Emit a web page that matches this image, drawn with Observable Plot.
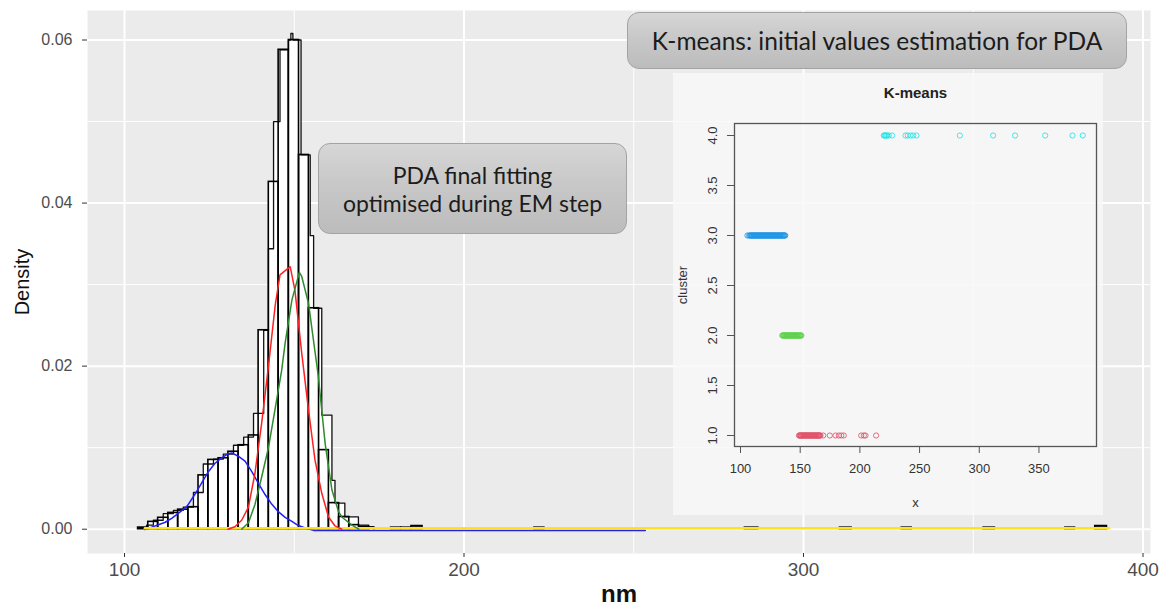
<!DOCTYPE html>
<html><head><meta charset="utf-8">
<script src="https://cdn.jsdelivr.net/npm/d3@7"></script>
<script src="https://cdn.jsdelivr.net/npm/@observablehq/plot@0.6"></script>
<style>
body{margin:0;background:#fff;}
#wrap{position:relative;width:1161px;height:609px;overflow:hidden;font-family:"Liberation Sans",Arial,sans-serif;}
#main{position:absolute;left:0;top:0;}
#inset{position:absolute;left:673px;top:73px;width:430px;height:442px;background:rgba(248,248,248,0.86);}
.callout{position:absolute;box-sizing:border-box;border:1px solid #a3a3a3;border-radius:12px;background:linear-gradient(#d6d6d6,#c8c8c8 45%,#bcbcbc);color:#1c1c1c;font-family:Lato,"Open Sans",sans-serif;display:flex;align-items:center;justify-content:center;text-align:center;}
</style></head><body>
<div id="wrap">
  <div id="main"></div>
  <div id="inset"></div>
  <div class="callout" style="left:627px;top:12px;width:500px;height:57px;font-size:24.5px;">K-means: initial values estimation for PDA</div>
  <div class="callout" style="left:318px;top:143px;width:309px;height:91px;font-size:23px;line-height:28px;">PDA final fitting<br>optimised during EM step</div>
</div>
<script>
// ---------- main panel: ticks ----------
const xMajor = [100, 200, 300, 400];
const xMinor = [150, 250, 350];
const yMajor = [0, 0.02, 0.04, 0.06];
const yMinor = [0.01, 0.03, 0.05];

// ---------- histogram bars (3 nm bins) ----------
const edgesA = [104, 107, 109.9, 112.9, 115.8, 118.8, 121.8, 124.7, 127.7, 130.6, 133.6, 136.6, 139.5, 142.5, 145.4, 148.4, 151.4, 154.3, 157.3, 160.2, 163.2, 166.2, 169.1, 172.1];
const densA = [0.0002, 0.0009, 0.0014, 0.0020, 0.0024, 0.0027, 0.0066, 0.0085, 0.0087, 0.0095, 0.0103, 0.0115, 0.0244, 0.0426, 0.0588, 0.0600, 0.0459, 0.0271, 0.0097, 0.0032, 0.0015, 0.0005, 0.0003];
// ---------- overlaid histogram outline (stepped envelope) ----------
const outlineX = [104, 106.5, 108.5, 111.4, 114.4, 117.3, 120.3, 123.2, 126.2, 129.1, 132.1, 135.1, 138, 141, 142.4, 143.9, 145.8, 148.3, 149.0, 149.6, 152, 154.7, 155.7, 158.1, 161.1, 162, 164.9, 168.9, 171.9, 173.5];
const outlineY = [0.0002, 0.0005, 0.0011, 0.0019, 0.0023, 0.0027, 0.0045, 0.0080, 0.0086, 0.0092, 0.0103, 0.0113, 0.0142, 0.0244, 0.0344, 0.0500, 0.0588, 0.0600, 0.0608, 0.0600, 0.0459, 0.0360, 0.0271, 0.0140, 0.0060, 0.0032, 0.0015, 0.0005, 0.0003, 0];
// ---------- isolated large-size counts ----------
const outStart = [178.5, 181.5, 184.5, 220.7, 282.7, 310.7, 328.9, 353.0, 377.1, 385.9];
const outEnd   = [181.5, 184.5, 187.8, 223.7, 286.7, 314.2, 331.9, 356.4, 380.0, 389.4];
const outDens  = [0.0002, 0.0002, 0.0004, 0.0002, 0.0002, 0.0002, 0.0002, 0.0002, 0.0002, 0.0004];

// ---------- fitted components ----------
const blueX = [106, 108, 110, 112, 114, 116.5, 118.5, 120.7, 122.7, 124.7, 126.6, 128.6, 130.5, 131.6, 133.5, 135.5, 137.5, 139.4, 141.4, 143.4, 145.3, 147.3, 149.3, 151.2, 153.2, 155.7, 253.4];
const blueY = [0.0001, 0.0004, 0.0007, 0.0010, 0.0015, 0.0023, 0.0030, 0.0044, 0.0058, 0.0072, 0.0082, 0.0089, 0.0094, 0.0095, 0.0091, 0.0085, 0.0072, 0.0058, 0.0044, 0.0032, 0.0023, 0.0016, 0.0011, 0.0006, 0.0003, 0, 0];
const redX = [130.5, 132.5, 134.5, 136.5, 138.4, 140.4, 142.4, 144.4, 145.8, 148.8, 150.2, 152.2, 154.2, 156.1, 158.1, 160.1, 162, 164];
const redY = [0, 0.0003, 0.0011, 0.0027, 0.0068, 0.0130, 0.0200, 0.0275, 0.0312, 0.0322, 0.0293, 0.0216, 0.0146, 0.0085, 0.0044, 0.0015, 0.0004, 0];
const greenX = [134.5, 136.5, 138.4, 140.4, 142.4, 144.3, 146.3, 147.3, 149.3, 151.5, 152.2, 154.2, 157.1, 159.1, 161.1, 163, 164, 167, 169];
const greenY = [0, 0.0008, 0.0030, 0.0064, 0.0100, 0.0146, 0.0195, 0.0228, 0.0281, 0.0315, 0.0310, 0.0277, 0.0187, 0.0105, 0.0048, 0.0022, 0.0015, 0.0005, 0];
const yellowX = [106, 390];
const yellowY = [0, 0];

// ---------- inset K-means ----------
const insetXTicks = [100, 150, 200, 250, 300, 350];
const insetYTicks = [1, 1.5, 2, 2.5, 3, 3.5, 4];
const cluster1 = [149, 149.5, 150, 150.5, 151, 151.5, 152, 152.5, 153, 153.5, 154, 154.5, 155, 155.5, 156, 156.5, 157, 157.5, 158, 158.5, 159, 159.5, 160, 160.5, 161, 161.5, 162, 162.5, 163, 163.5, 164, 164.5, 165, 165.5, 166, 166.5, 167, 169.3, 174.8, 179.6, 182.4, 184.4, 186.5, 201.1, 203.3, 204.7, 213.6];
const cluster2 = [135, 135.5, 136, 136.5, 137, 137.5, 138, 138.5, 139, 139.5, 140, 140.5, 141, 141.5, 142, 142.5, 143, 143.5, 144, 144.5, 145, 145.5, 146, 146.5, 147, 147.5, 148, 148.5, 149, 149.5, 150, 150.5, 151];
const cluster3 = [105.8, 107.2, 108, 108.5, 109, 109.5, 110, 110.5, 111, 111.5, 112, 112.5, 113, 113.5, 114, 114.5, 115, 115.5, 116, 116.5, 117, 117.5, 118, 118.5, 119, 119.5, 120, 120.5, 121, 121.5, 122, 122.5, 123, 123.5, 124, 124.5, 125, 125.5, 126, 126.5, 127, 127.5, 128, 128.5, 129, 129.5, 130, 130.5, 131, 131.5, 132, 132.5, 133, 133.5, 134, 134.5, 135, 135.5, 136, 136.5, 137, 137.5];
const cluster4 = [220, 220.7, 221.4, 222.1, 222.9, 224.2, 227, 238.2, 240.1, 242.4, 244.6, 247.4, 283.7, 311.6, 330.0, 355.2, 378.1, 386.7];
const clusterColors = ["#DF536B", "#61D04F", "#2297E6", "#28E2E5"];

// ---------- build tables ----------
const binsA = densA.map((d, i) => ({x1: edgesA[i], x2: edgesA[i + 1], y1: 0, y2: d}));
const binsO = outDens.map((d, i) => ({x1: outStart[i], x2: outEnd[i], y1: 0, y2: d}));
const pts = (xs, ys) => xs.map((x, i) => ({x, y: ys[i]}));
const font = "'Liberation Sans', Arial, sans-serif";

const main = Plot.plot({
  width: 1161, height: 609,
  marginLeft: 87, marginRight: 11, marginTop: 10, marginBottom: 56,
  x: {domain: [89.1, 402.2]},
  y: {domain: [-0.00298, 0.06362]},
  style: {background: "transparent", fontFamily: font, overflow: "visible"},
  marks: [
    Plot.frame({fill: "#EBEBEB", stroke: null}),
    Plot.ruleX(xMinor, {stroke: "#fff", strokeWidth: 1}),
    Plot.ruleY(yMinor, {stroke: "#fff", strokeWidth: 1}),
    Plot.ruleX(xMajor, {stroke: "#fff", strokeWidth: 2}),
    Plot.ruleY(yMajor, {stroke: "#fff", strokeWidth: 2}),
    Plot.areaY(pts(outlineX, outlineY), {x: "x", y: "y", curve: "step-after", fill: "white"}),
    Plot.rect(binsA, {x1: "x1", x2: "x2", y1: "y1", y2: "y2", fill: "white"}),
    Plot.line(pts(outlineX, outlineY), {x: "x", y: "y", curve: "step-after", stroke: "#111", strokeWidth: 1.3}),
    Plot.rect(binsA, {x1: "x1", x2: "x2", y1: "y1", y2: "y2", fill: "none", stroke: "#000", strokeWidth: 1.6}),
    Plot.rect(binsO, {x1: "x1", x2: "x2", y1: "y1", y2: "y2", fill: "#222", stroke: "#000", strokeWidth: 1.4}),
    Plot.line(pts(blueX, blueY), {x: "x", y: "y", stroke: "#1f1fff", strokeWidth: 1.5, dy: 1.2}),
    Plot.line(pts(yellowX, yellowY), {x: "x", y: "y", stroke: "#FFE21A", strokeWidth: 2.5, dy: -1}),
    Plot.line(pts(redX, redY), {x: "x", y: "y", stroke: "#FF2020", strokeWidth: 1.5}),
    Plot.line(pts(greenX, greenY), {x: "x", y: "y", stroke: "#2E8B2E", strokeWidth: 1.5}),
    Plot.axisX({ticks: xMajor, tickSize: 4, tickPadding: 5, fontSize: 19, fill: "#4D4D4D", stroke: "#333", label: null}),
    Plot.axisY({ticks: yMajor, tickFormat: d3.format(".2f"), tickSize: 5, tickPadding: 10, fontSize: 16, fill: "#4D4D4D", stroke: "#333", label: null}),
    Plot.text(["Density"], {text: d => d, frameAnchor: "left", dx: -65, rotate: -90, textAnchor: "middle", lineAnchor: "middle", fontSize: 20, fill: "#111"}),
    Plot.text(["nm"], {text: d => d, frameAnchor: "bottom", dy: 41, textAnchor: "middle", lineAnchor: "middle", fontSize: 24, fontWeight: "bold", fill: "#111"})
  ]
});
document.getElementById("main").appendChild(main);

const clusterPts = [cluster1, cluster2, cluster3, cluster4].flatMap((xs, k) => xs.map(x => ({x, c: k + 1, col: clusterColors[k]})));

const inset = Plot.plot({
  width: 430, height: 442,
  marginLeft: 61, marginRight: 7, marginTop: 50, marginBottom: 69,
  x: {domain: [94.97, 398.2]},
  y: {domain: [0.89, 4.12]},
  style: {background: "transparent", fontFamily: font, overflow: "visible"},
  marks: [
    Plot.dot(clusterPts, {x: "x", y: "c", r: 2.6, stroke: "col", fill: "none", strokeWidth: 1, strokeOpacity: 0.85}),
    Plot.frame({stroke: "#555", strokeWidth: 1.3}),
    Plot.axisX({ticks: insetXTicks, tickSize: 7, tickPadding: 10, fontSize: 13, fill: "#333", stroke: "#555", label: null}),
    Plot.axisY({ticks: insetYTicks, tickSize: 7, tickFormat: () => "", stroke: "#555", label: null}),
    Plot.text(insetYTicks, {y: d => d, text: d => d.toFixed(1), frameAnchor: "left", dx: -22, rotate: -90, textAnchor: "middle", lineAnchor: "middle", fontSize: 13, fill: "#333"}),
    Plot.text(["K-means"], {text: d => d, frameAnchor: "top", dy: -30, textAnchor: "middle", lineAnchor: "middle", fontSize: 15, fontWeight: "bold", fill: "#222"}),
    Plot.text(["x"], {text: d => d, frameAnchor: "bottom", dy: 56, textAnchor: "middle", lineAnchor: "middle", fontSize: 13, fill: "#333"}),
    Plot.text(["cluster"], {text: d => d, frameAnchor: "left", dx: -52, rotate: -90, textAnchor: "middle", lineAnchor: "middle", fontSize: 13, fill: "#333"})
  ]
});
document.getElementById("inset").appendChild(inset);
</script>
</body></html>
